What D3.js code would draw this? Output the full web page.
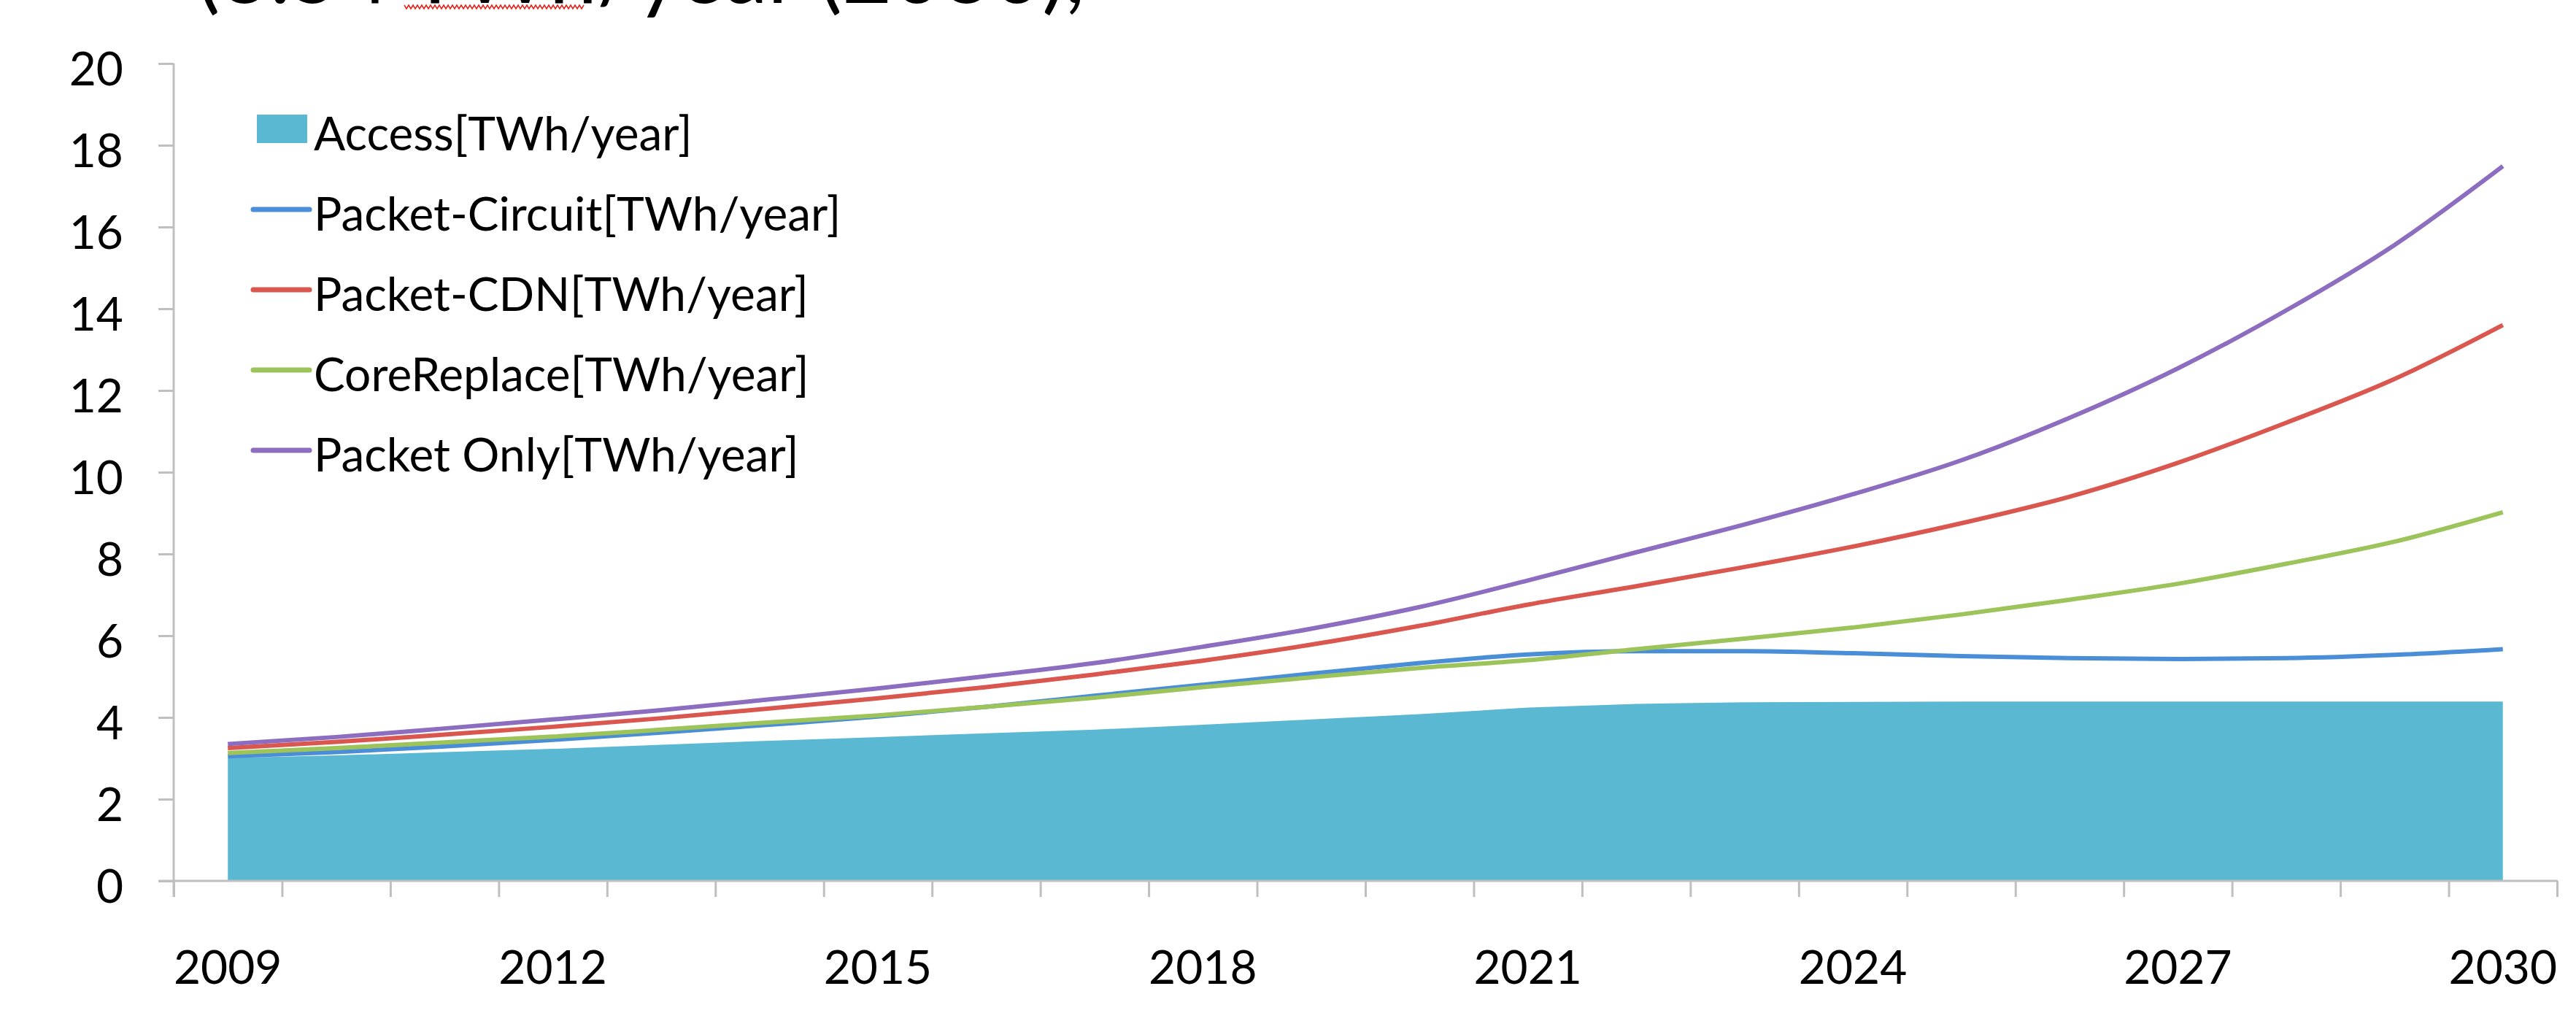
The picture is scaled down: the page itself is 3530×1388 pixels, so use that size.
<!DOCTYPE html>
<html>
<head>
<meta charset="utf-8">
<script src="https://cdn.jsdelivr.net/npm/d3@7"></script>
<style>
  body { margin: 0; background: #fff; }
  text { font-family: Lato, "Open Sans", sans-serif; fill: #000; }
</style>
</head>
<body>
<div id="chartDiv"></div>
<script>
// values, TWh/year
var years = [2009, 2010, 2011, 2012, 2013, 2014, 2015, 2016, 2017, 2018, 2019,
             2020, 2021, 2022, 2023, 2024, 2025, 2026, 2027, 2028, 2029, 2030];
var access        = [3.01, 3.07, 3.15, 3.23, 3.33, 3.43, 3.52, 3.61, 3.70, 3.82, 3.95,
                     4.08, 4.24, 4.33, 4.37, 4.38, 4.39, 4.39, 4.39, 4.39, 4.39, 4.39];
var packetCircuit = [3.05, 3.15, 3.29, 3.45, 3.63, 3.82, 4.02, 4.26, 4.53, 4.80, 5.07,
                     5.33, 5.54, 5.62, 5.62, 5.57, 5.50, 5.45, 5.43, 5.45, 5.53, 5.67];
var packetCDN     = [3.25, 3.40, 3.58, 3.77, 3.98, 4.22, 4.47, 4.74, 5.05, 5.39, 5.78,
                     6.24, 6.76, 7.21, 7.68, 8.18, 8.75, 9.40, 10.23, 11.21, 12.28, 13.60];
var coreReplace   = [3.13, 3.25, 3.39, 3.53, 3.70, 3.88, 4.05, 4.26, 4.48, 4.74, 4.98,
                     5.21, 5.40, 5.67, 5.93, 6.20, 6.52, 6.88, 7.27, 7.76, 8.30, 9.02];
var packetOnly    = [3.35, 3.52, 3.73, 3.95, 4.18, 4.44, 4.71, 5.01, 5.33, 5.73, 6.17,
                     6.70, 7.35, 8.04, 8.72, 9.46, 10.29, 11.33, 12.54, 13.96, 15.56, 17.49];
var yTicks = [0, 2, 4, 6, 8, 10, 12, 14, 16, 18, 20];
var xLabelYears = [2009, 2012, 2015, 2018, 2021, 2024, 2027, 2030];
var titleText = "(3.54 TWh/year (2030),";

var areaName = "Access[TWh/year]";
var lineSeries = [
  { name: "Packet-Circuit[TWh/year]", values: packetCircuit, color: "#4b8ed8" },
  { name: "Packet-CDN[TWh/year]",     values: packetCDN,     color: "#d9574f" },
  { name: "CoreReplace[TWh/year]",    values: coreReplace,   color: "#9dc35b" },
  { name: "Packet Only[TWh/year]",    values: packetOnly,    color: "#8c6dbf" }
];

function drawEnergyChart(){
	var areaColor = "#5bb8d2";
	var axisColor = "#bfbfbf";

	var width = 3530, height = 1388;
	var plot = {left: 238, right: 3504, top: 87, bottom: 1207};

	var svg = d3.select("#chartDiv")
	  .append("svg")
	    .attr("width", width)
	    .attr("height", height);

	svg.append("rect").attr("width", width).attr("height", height).attr("fill", "#fff");

	// title, mostly cut off at the top of the picture
	svg.append("text")
	  .attr("x", 270)
	  .attr("y", 4)
	  .style("font-size", "118px")
	  .text(titleText);

	// spell-check squiggle under "TWh"
	var sq = [];
	for (var sx = 554; sx <= 800; sx += 3) {
	  sq.push([sx, (Math.round((sx - 554) / 3) % 2 == 0) ? 7 : 12]);
	}
	svg.append("path")
	  .attr("d", d3.line()(sq))
	  .attr("fill", "none")
	  .attr("stroke", "#e5231d")
	  .attr("stroke-width", 1.5);

	// scales
	var x = d3.scaleBand()
	  .domain(years)
	  .range([plot.left, plot.right])
	  .padding(0);
	var xEdge = d3.scaleLinear()
	  .domain([0, years.length])
	  .range([plot.left, plot.right]);
	var y = d3.scaleLinear()
	  .domain([0, 20])
	  .range([plot.bottom, plot.top]);

	function cx(i) { return x(years[i]) + x.bandwidth() / 2; }

	// Access area
	svg.append("path")
	  .datum(access)
	  .attr("fill", areaColor)
	  .attr("d", d3.area()
	    .x(function(d, i) { return cx(i); })
	    .y0(y(0))
	    .y1(function(d) { return y(d); }));

	// lines
	lineSeries.forEach(function(s) {
	  svg.append("path")
	    .datum(s.values)
	    .attr("fill", "none")
	    .attr("stroke", s.color)
	    .attr("stroke-width", 6)
	    .attr("stroke-linejoin", "round")
	    .attr("d", d3.line()
	      .x(function(d, i) { return cx(i); })
	      .y(function(d) { return y(d); })
	      .curve(d3.curveMonotoneX));
	});

	// y axis
	var yAxis = svg.append("g")
	  .attr("transform", "translate(" + plot.left + ",0)")
	  .call(d3.axisLeft(y).tickValues(yTicks).tickSize(21).tickPadding(48).tickSizeOuter(0));
	yAxis.select(".domain").remove();
	yAxis.selectAll("line").attr("stroke", axisColor).attr("stroke-width", 3);
	yAxis.selectAll("text")
	  .attr("dy", "0.46em")
	  .style("font-size", "64px")
	  .style("font-family", "Lato, sans-serif")
	  .attr("fill", "#000");
	svg.append("line")
	  .attr("x1", plot.left).attr("x2", plot.left)
	  .attr("y1", plot.top).attr("y2", plot.bottom + 22)
	  .attr("stroke", axisColor).attr("stroke-width", 3);

	// x axis: ticks on the category edges, labels every third year
	var xTicks = svg.append("g")
	  .attr("transform", "translate(0," + plot.bottom + ")")
	  .call(d3.axisBottom(xEdge).tickValues(d3.range(years.length + 1)).tickSize(22).tickFormat(""));
	xTicks.select(".domain").remove();
	xTicks.selectAll("line").attr("stroke", axisColor).attr("stroke-width", 3);
	svg.append("line")
	  .attr("x1", plot.left - 21).attr("x2", plot.right + 1)
	  .attr("y1", plot.bottom).attr("y2", plot.bottom)
	  .attr("stroke", axisColor).attr("stroke-width", 3);

	var xLabels = svg.append("g")
	  .attr("transform", "translate(0," + plot.bottom + ")")
	  .call(d3.axisBottom(x).tickValues(xLabelYears).tickSize(0).tickPadding(141));
	xLabels.select(".domain").remove();
	xLabels.selectAll("text")
	  .attr("dy", "0em")
	  .style("font-size", "64px")
	  .style("font-family", "Lato, sans-serif")
	  .attr("fill", "#000");

	// legend
	var legend = svg.append("g");
	legend.append("rect")
	  .attr("x", 352).attr("y", 157)
	  .attr("width", 69).attr("height", 39)
	  .attr("fill", areaColor);
	legend.append("text")
	  .attr("x", 430).attr("y", 206)
	  .style("font-size", "64px")
	  .text(areaName);
	lineSeries.forEach(function(s, i) {
	  var ly = 287 + i * 110;
	  legend.append("line")
	    .attr("x1", 347).attr("x2", 424)
	    .attr("y1", ly).attr("y2", ly)
	    .attr("stroke", s.color)
	    .attr("stroke-width", 7)
	    .attr("stroke-linecap", "round");
	  legend.append("text")
	    .attr("x", 430).attr("y", ly + 29)
	    .style("font-size", "64px")
	    .text(s.name);
	});
}

drawEnergyChart();
</script>
</body>
</html>
